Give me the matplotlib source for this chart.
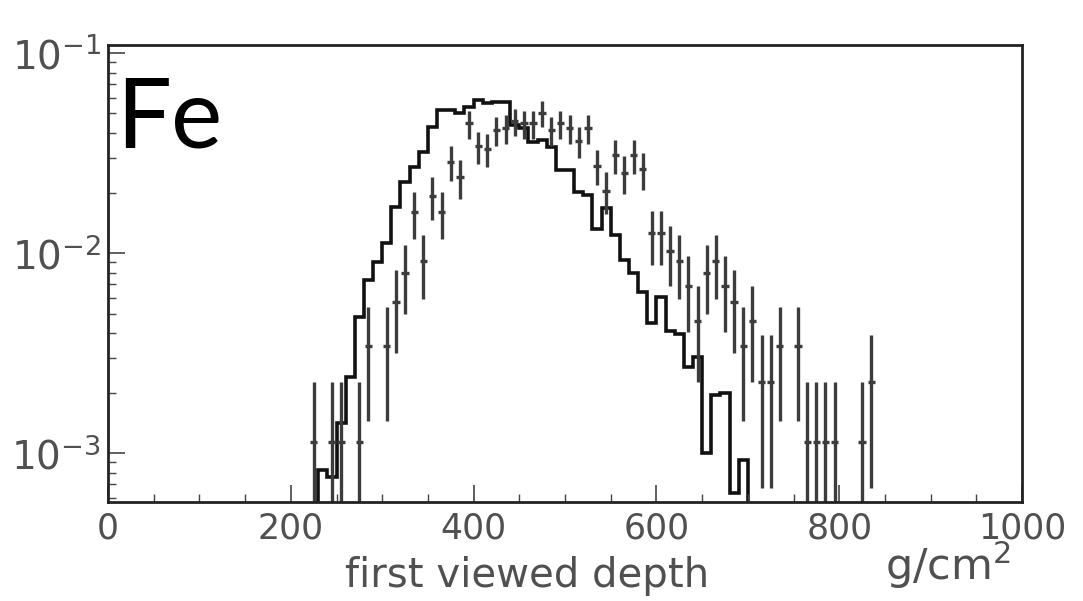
import numpy as np
import matplotlib
matplotlib.use("Agg")
import matplotlib.pyplot as plt
from matplotlib.ticker import MultipleLocator, LogLocator, NullFormatter, FuncFormatter

# ---- simulation histogram (10 g/cm2 bins, lower edges 230 ... 690) ----
sim_bin_edges = list(range(230, 710, 10))
sim_values = [8.25e-4, 7.62e-4, 1.42e-3, 2.41e-3, 4.81e-3, 7.36e-3, 9.05e-3,
              1.127e-2, 1.706e-2, 2.27e-2, 2.70e-2, 3.21e-2, 4.28e-2, 5.21e-2,
              5.21e-2, 5.01e-2, 5.41e-2, 5.84e-2, 5.62e-2, 5.72e-2, 5.72e-2,
              4.38e-2, 4.22e-2, 3.61e-2, 3.69e-2, 3.41e-2, 2.61e-2, 2.61e-2,
              2.03e-2, 1.96e-2, 1.33e-2, 1.68e-2, 1.235e-2, 9.26e-3, 7.94e-3,
              6.43e-3, 4.47e-3, 6.07e-3, 4.10e-3, 3.95e-3, 2.71e-3, 3.04e-3,
              1.007e-3, 1.96e-3, 2.0e-3, 6.35e-4, 9.26e-4]

# ---- measured data points ----
data_x = [225, 245, 255, 275, 285, 305, 315, 325, 335, 345, 355, 365, 375, 385,
          395, 405, 415, 425, 435, 445, 455, 465, 475, 485, 495, 505, 515, 525,
          535, 545, 555, 565, 575, 585, 595, 605, 615, 625, 635, 645, 655, 665,
          675, 685, 695, 705, 715, 725, 735, 755, 765, 775, 785, 795, 825, 835]
data_y = [0.001143, 0.001143, 0.001143, 0.001143, 0.003429, 0.003429, 0.005714,
          0.008000, 0.01600, 0.009143, 0.01943, 0.01600, 0.02857, 0.02400,
          0.04457, 0.03429, 0.03314, 0.04114, 0.04229, 0.04571, 0.04457,
          0.04457, 0.05029, 0.04114, 0.04457, 0.04229, 0.03657, 0.04229,
          0.02743, 0.02057, 0.03086, 0.02514, 0.03086, 0.02629, 0.01257,
          0.01257, 0.01029, 0.009143, 0.006857, 0.004571, 0.008000, 0.009143,
          0.006857, 0.005714, 0.003429, 0.004571, 0.002286, 0.002286, 0.003429,
          0.003429, 0.001143, 0.001143, 0.001143, 0.001143, 0.001143, 0.002286]
data_err = [0.001143, 0.001143, 0.001143, 0.001143, 0.001979, 0.001979, 0.002556,
            0.003024, 0.004276, 0.003232, 0.004712, 0.004276, 0.005714, 0.005237,
            0.007137, 0.006260, 0.006154, 0.006857, 0.006952, 0.007228, 0.007137,
            0.007137, 0.007581, 0.006857, 0.007137, 0.006952, 0.006465, 0.006952,
            0.005599, 0.004849, 0.005938, 0.005360, 0.005938, 0.005481, 0.003790,
            0.003790, 0.003429, 0.003232, 0.002799, 0.002286, 0.003024, 0.003232,
            0.002799, 0.002556, 0.001979, 0.002286, 0.001616, 0.001616, 0.001979,
            0.001979, 0.001143, 0.001143, 0.001143, 0.001143, 0.001143, 0.001616]

x_major_ticks = [0, 200, 400, 600, 800, 1000]
x_range = (0, 1000)
y_range = (5.73e-4, 0.110)

plt.rcParams["font.family"] = ["DejaVu Sans"]
plt.rcParams["mathtext.fontset"] = "custom"
plt.rcParams["mathtext.rm"] = "DejaVu Sans"
plt.rcParams["mathtext.it"] = "DejaVu Sans"
plt.rcParams["mathtext.bf"] = "DejaVu Sans"

W, H = 1083, 601
fig = plt.figure(figsize=(W / 100, H / 100), dpi=100)
ax = fig.add_axes([108 / W, 1 - 501.7 / H, (1022 - 108) / W, (501.7 - 45) / H])

ax.set_yscale("log")
ax.set_xlim(*x_range)
ax.set_ylim(*y_range)

# histogram (simulation)
ax.stairs(sim_values, sim_bin_edges, baseline=1e-9, fill=False,
          color="#111111", linewidth=2.6)

# data with error bars
yv = np.array(data_y)
ev = np.array(data_err)
lower = np.minimum(ev, yv * 0.9999)
ax.errorbar(data_x, yv, yerr=[lower, ev], xerr=4, fmt="none",
            ecolor="#3c3c3c", elinewidth=2.4, capsize=0)

text_col = "#505050"
for s in ax.spines.values():
    s.set_color("#222222")
    s.set_linewidth(2.0)

ax.xaxis.set_major_locator(plt.FixedLocator(x_major_ticks))
ax.xaxis.set_minor_locator(MultipleLocator(50))
ax.yaxis.set_major_locator(LogLocator(base=10, numticks=10))
ax.yaxis.set_minor_locator(LogLocator(base=10, subs=np.arange(2, 10), numticks=20))
ax.yaxis.set_minor_formatter(NullFormatter())
ax.yaxis.set_major_formatter(FuncFormatter(
    lambda v, p: r"$\mathregular{10^{%d}}$" % int(round(np.log10(v)))))

ax.tick_params(which="both", direction="in", top=False, right=False,
               colors="#444444", labelcolor=text_col)
ax.tick_params(which="major", length=12, width=1.2)
ax.tick_params(which="minor", length=6, width=1.0)
ax.tick_params(axis="x", which="major", labelsize=25, pad=7)
ax.tick_params(axis="y", which="major", labelsize=28, pad=5)

fig.text(527 / W, 1 - 576 / H, "first viewed depth", ha="center", va="center",
         fontsize=29, color=text_col)
fig.text(948 / W, 1 - 565 / H, r"g/cm$^{\mathregular{2}}$", ha="center", va="center",
         fontsize=31, color=text_col)
fig.text(116 / W, 1 - 148 / H, "Fe", ha="left", va="baseline",
         fontsize=70, color="black", family=["Lato", "DejaVu Sans"])

fig.savefig("out.png", dpi=100, facecolor="white")
